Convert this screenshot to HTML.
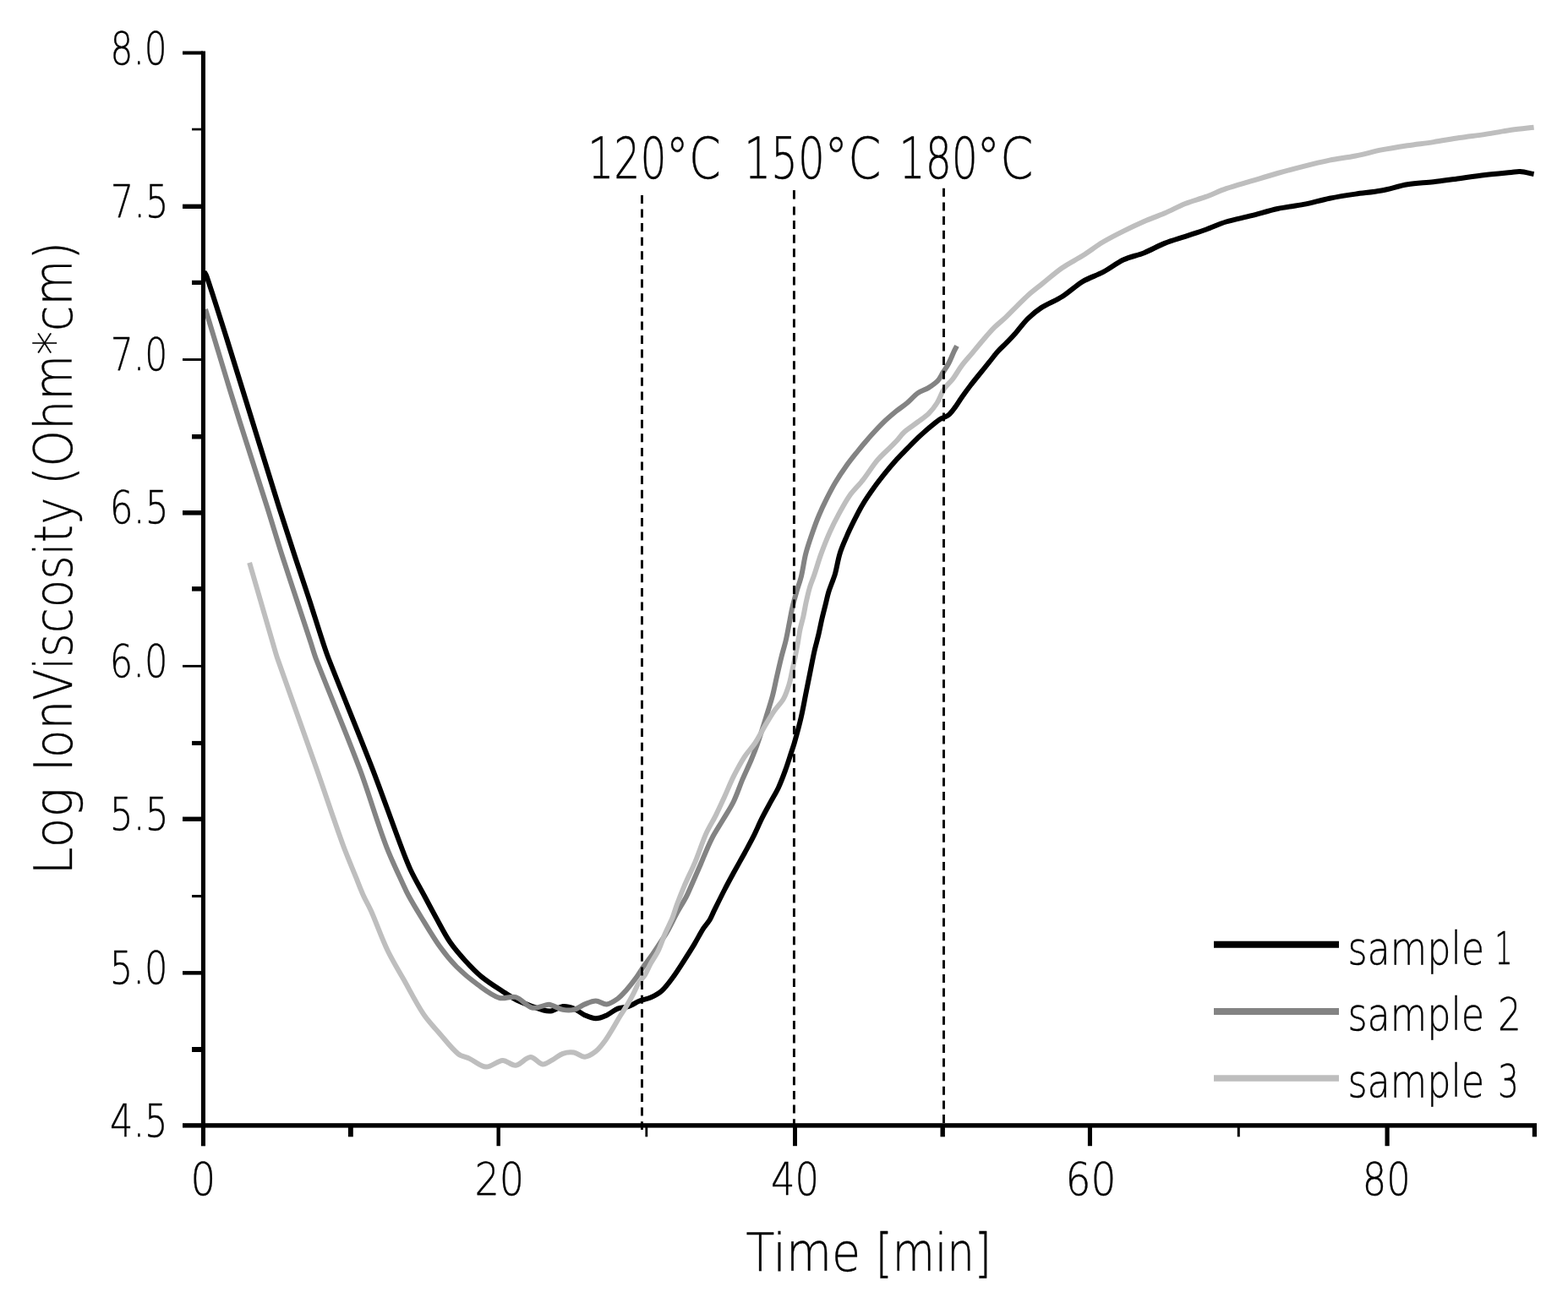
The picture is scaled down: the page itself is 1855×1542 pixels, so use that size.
<!DOCTYPE html>
<html><head><meta charset="utf-8"><title>Log IonViscosity vs Time</title>
<style>html,body{margin:0;padding:0;background:#fff;}svg{display:block;}</style>
</head><body>
<svg width="1855" height="1542" viewBox="0 0 1855 1542">
<rect width="1855" height="1542" fill="#fff"/>
<g fill="none" stroke-width="6" stroke-linejoin="round" stroke-linecap="butt">
<path d="M241.5 321.5C242.5 323.3 243.8 325.0 244.5 327.0C252.7 351.2 260.3 375.6 268.0 400.0C273.3 416.6 278.3 433.3 283.5 450.0C288.7 466.7 293.8 483.3 299.0 500.0C304.2 516.7 309.3 533.3 314.5 550.0C319.7 566.7 324.7 583.4 330.0 600.0C336.4 620.0 342.9 640.0 349.4 660.0C354.9 676.7 360.6 693.3 366.0 710.0C371.4 726.6 376.5 743.4 382.0 760.0C384.2 766.7 386.4 773.4 389.0 780.0C406.0 823.4 423.8 866.4 440.6 909.8C452.1 939.7 462.6 970.0 473.9 1000.0C477.6 1009.8 481.2 1019.7 485.6 1029.2C490.7 1040.1 496.9 1050.4 502.5 1061.0C507.2 1069.8 511.8 1078.7 516.7 1087.5C521.8 1096.7 526.4 1106.2 532.3 1114.8C537.5 1122.4 543.6 1129.4 549.8 1136.2C556.0 1143.0 562.3 1149.8 569.3 1155.6C577.2 1162.1 586.0 1167.6 594.6 1173.2C600.9 1177.3 607.2 1181.7 614.0 1184.8C623.4 1189.1 633.3 1192.6 643.2 1195.5C646.3 1196.4 649.9 1196.8 653.0 1196.2C657.4 1195.3 661.5 1191.4 665.9 1191.0C670.1 1190.6 674.9 1192.0 678.9 1193.6C683.5 1195.4 687.3 1199.3 691.9 1201.4C696.0 1203.2 700.6 1205.3 704.9 1205.3C709.2 1205.3 713.7 1203.2 717.8 1201.4C722.4 1199.3 726.2 1195.4 730.8 1193.6C734.8 1192.0 739.7 1192.5 743.8 1191.0C748.3 1189.4 752.2 1186.3 756.7 1184.5C760.9 1182.8 765.6 1182.4 769.7 1180.6C774.3 1178.5 779.0 1176.1 782.7 1172.8C787.6 1168.4 791.6 1162.7 795.6 1157.3C800.2 1151.0 804.4 1144.4 808.6 1137.8C813.0 1131.0 817.4 1124.1 821.6 1117.1C825.2 1111.1 828.3 1104.8 832.0 1098.9C834.3 1095.3 837.5 1092.2 839.7 1088.5C841.6 1085.3 842.9 1081.7 844.5 1078.4C848.8 1069.7 853.0 1061.1 857.4 1052.5C860.8 1045.9 864.3 1039.5 867.8 1033.0C872.1 1025.2 876.5 1017.5 880.8 1009.7C884.3 1003.2 887.9 996.8 891.2 990.2C894.8 983.0 897.9 975.4 901.5 968.2C904.8 961.6 908.4 955.2 911.9 948.7C914.9 943.1 918.3 937.7 921.0 931.9C923.9 925.6 926.4 919.0 928.8 912.4C931.2 906.0 933.2 899.5 935.3 893.0C936.9 888.1 938.6 883.3 940.0 878.4C942.8 868.5 945.5 858.6 947.8 848.6C949.8 840.0 951.3 831.3 953.0 822.7C954.7 814.0 956.5 805.4 958.2 796.7C959.9 788.1 961.5 779.4 963.4 770.8C965.0 763.8 967.0 757.0 968.6 750.0C970.0 744.0 971.1 737.9 972.5 731.9C973.7 726.7 975.1 721.5 976.4 716.3C977.7 711.1 978.7 705.9 980.2 700.8C981.7 696.0 983.7 691.3 985.4 686.5C986.3 684.0 987.3 681.6 988.0 679.0C990.1 671.1 991.2 662.9 993.6 655.1C995.6 648.4 998.5 642.0 1001.3 635.6C1004.1 629.0 1007.2 622.6 1010.4 616.2C1013.7 609.6 1017.0 603.0 1020.8 596.7C1024.8 590.0 1029.3 583.6 1033.8 577.3C1037.9 571.5 1042.3 565.9 1046.7 560.4C1051.3 554.7 1056.1 549.1 1061.0 543.6C1064.8 539.3 1069.0 535.3 1073.0 531.2C1077.3 526.8 1081.5 522.4 1085.9 518.2C1090.1 514.2 1094.5 510.4 1098.9 506.6C1103.1 503.0 1107.3 499.3 1111.9 496.2C1115.1 494.1 1119.3 493.4 1122.3 491.0C1125.4 488.6 1127.6 485.1 1130.0 481.9C1132.8 478.1 1135.1 474.0 1137.8 470.2C1141.2 465.4 1144.6 460.7 1148.2 456.0C1151.6 451.6 1155.1 447.3 1158.6 443.0C1162.5 438.2 1166.3 433.5 1170.2 428.7C1173.7 424.4 1176.9 419.9 1180.6 415.8C1183.9 412.1 1187.6 408.9 1191.0 405.4C1194.6 401.7 1198.1 398.0 1201.5 394.2C1206.5 388.5 1210.8 382.2 1216.2 376.9C1221.1 372.1 1226.5 367.6 1232.3 363.9C1240.0 359.0 1248.9 355.9 1256.6 351.0C1265.1 345.7 1272.3 338.3 1280.9 333.2C1288.5 328.6 1297.3 326.1 1305.1 321.9C1313.4 317.5 1320.9 311.3 1329.4 307.3C1337.1 303.7 1345.7 302.4 1353.6 299.2C1361.9 295.9 1369.6 291.2 1377.9 287.9C1385.8 284.7 1394.1 282.5 1402.2 279.8C1410.3 277.1 1418.4 274.7 1426.4 271.8C1434.5 268.9 1442.3 265.0 1450.5 262.5C1460.4 259.5 1470.7 257.8 1480.7 255.2C1491.0 252.6 1501.1 249.2 1511.5 247.0C1521.6 244.8 1532.0 243.9 1542.2 241.9C1552.5 239.8 1562.6 236.8 1572.9 234.7C1583.1 232.7 1593.3 231.1 1603.6 229.6C1613.8 228.1 1624.2 227.4 1634.3 225.5C1644.7 223.6 1654.7 220.0 1665.1 218.3C1675.2 216.6 1685.6 216.4 1695.8 215.2C1706.1 214.0 1716.3 212.5 1726.5 211.2C1736.8 209.8 1747.0 208.3 1757.3 207.1C1767.5 205.9 1777.8 205.0 1788.0 204.0C1791.4 203.7 1794.8 202.7 1798.2 203.0C1803.7 203.4 1809.1 205.0 1814.6 206.0" stroke="#000"/>
<path d="M243.0 366.0C246.5 377.3 250.0 388.7 253.4 400.0C258.5 416.7 263.4 433.4 268.5 450.0C273.6 466.7 278.8 483.4 284.0 500.0C289.3 516.7 294.7 533.3 300.0 550.0C305.3 566.7 310.7 583.3 316.0 600.0C322.3 620.0 328.2 640.1 334.6 660.0C345.4 693.4 356.6 726.7 367.5 760.0C369.7 766.7 371.5 773.5 374.0 780.0C390.8 823.4 409.2 866.2 425.5 909.8C436.6 939.6 445.2 970.3 456.4 1000.0C462.6 1016.6 470.5 1032.5 477.8 1048.6C479.5 1052.5 481.3 1056.3 483.4 1060.0C487.8 1068.0 492.5 1075.9 497.3 1083.7C504.9 1096.1 512.2 1108.8 520.6 1120.6C526.5 1128.9 532.9 1136.8 540.1 1144.0C547.9 1151.8 556.5 1158.9 565.4 1165.4C573.4 1171.2 581.7 1178.0 590.7 1180.9C596.6 1182.8 604.2 1178.2 610.1 1180.0C617.2 1182.1 622.6 1191.0 629.6 1192.6C635.6 1193.9 642.5 1189.5 649.0 1188.7C650.3 1188.5 651.7 1189.2 653.0 1189.7C657.3 1191.3 661.4 1194.0 665.9 1194.9C670.1 1195.7 674.8 1195.9 678.9 1194.9C683.5 1193.8 687.4 1190.2 691.9 1188.4C696.1 1186.7 700.6 1184.5 704.9 1184.5C709.2 1184.5 713.6 1188.8 717.8 1188.4C722.3 1188.0 726.9 1184.7 730.8 1181.9C734.7 1179.1 737.9 1175.2 741.2 1171.5C744.8 1167.4 748.3 1163.0 751.5 1158.6C755.2 1153.5 758.3 1148.1 761.9 1143.0C764.4 1139.5 767.2 1136.1 769.7 1132.6C773.3 1127.5 776.7 1122.3 780.1 1117.1C783.2 1112.4 786.4 1107.7 789.2 1102.8C793.2 1095.7 796.6 1088.2 800.5 1081.0C804.0 1074.6 808.0 1068.4 811.5 1062.0C813.2 1058.9 814.5 1055.7 815.9 1052.5C820.3 1042.6 824.6 1032.6 828.9 1022.7C833.2 1012.7 837.0 1002.5 841.9 992.8C845.7 985.2 850.6 978.1 854.9 970.8C859.2 963.4 864.1 956.4 867.8 948.7C871.9 940.4 874.6 931.4 878.2 922.8C881.5 915.0 885.3 907.3 888.6 899.5C891.2 893.2 893.8 886.9 896.0 880.5C899.7 870.0 903.0 859.3 906.3 848.6C909.0 840.0 911.8 831.4 914.1 822.7C916.1 815.0 917.5 807.1 919.3 799.3C921.0 792.0 922.7 784.6 924.5 777.3C926.1 770.8 928.2 764.3 929.7 757.8C931.2 751.4 932.3 744.9 933.6 738.4C934.9 731.9 935.9 725.3 937.4 718.9C938.9 712.4 940.8 705.9 942.6 699.5C944.2 693.8 946.4 688.3 947.8 682.6C950.0 673.5 951.0 664.1 953.3 655.1C955.4 646.8 958.3 638.6 961.1 630.5C963.5 623.5 966.0 616.5 968.9 609.7C971.7 603.1 974.8 596.6 978.0 590.2C981.3 583.6 984.6 577.1 988.4 570.8C992.4 564.1 996.8 557.6 1001.3 551.3C1005.4 545.5 1009.9 540.0 1014.3 534.5C1018.5 529.2 1022.8 524.0 1027.3 518.9C1032.8 512.7 1038.2 506.6 1044.1 500.8C1049.1 495.9 1054.6 491.3 1060.0 486.8C1064.2 483.4 1068.8 480.5 1073.0 477.0C1077.5 473.2 1081.2 468.5 1085.9 465.1C1089.8 462.3 1094.8 461.1 1098.9 458.6C1102.6 456.3 1106.4 453.9 1109.3 450.8C1112.0 447.9 1113.6 443.9 1115.8 440.4C1118.0 436.9 1120.4 433.6 1122.3 430.0C1124.7 425.4 1126.5 420.5 1128.7 415.8C1129.7 413.6 1130.9 411.5 1132.0 409.3" stroke="#838383"/>
<path d="M295.1 665.8C304.2 697.2 313.3 728.6 322.5 760.0C324.5 766.7 326.2 773.4 328.5 780.0C343.6 823.4 359.3 866.5 374.5 909.8C385.0 939.8 394.9 970.1 405.8 1000.0C410.6 1013.1 416.2 1025.9 421.4 1038.9C424.2 1045.9 426.9 1053.1 430.0 1060.0C432.7 1066.0 436.2 1071.7 438.9 1077.8C445.7 1093.2 451.2 1109.3 458.4 1124.5C464.1 1136.5 471.2 1147.9 477.8 1159.5C485.5 1173.2 492.5 1187.4 501.2 1200.4C506.8 1208.8 514.0 1216.1 520.6 1223.7C527.6 1231.7 534.0 1240.5 542.0 1247.1C545.7 1250.2 551.1 1250.8 555.6 1252.9C562.2 1256.0 568.5 1262.3 575.1 1262.6C581.5 1262.9 588.1 1255.3 594.6 1254.9C599.7 1254.6 605.1 1261.3 610.1 1260.7C616.1 1260.0 621.8 1251.2 627.6 1251.0C632.4 1250.8 637.1 1258.8 642.0 1259.5C645.5 1260.0 649.5 1256.5 653.0 1254.6C657.4 1252.2 661.3 1248.4 665.9 1246.8C669.9 1245.4 674.7 1244.9 678.9 1245.5C683.4 1246.2 687.6 1250.9 691.9 1250.7C696.3 1250.5 701.2 1247.1 704.9 1244.2C708.9 1241.1 712.1 1236.7 715.2 1232.5C718.6 1228.0 721.4 1223.0 724.3 1218.2C727.4 1213.1 730.3 1207.8 733.4 1202.7C736.3 1197.9 739.6 1193.2 742.5 1188.4C744.8 1184.6 746.9 1180.7 749.0 1176.7C751.2 1172.5 752.9 1167.9 755.4 1163.8C757.6 1160.1 760.9 1157.1 763.2 1153.4C765.7 1149.3 767.4 1144.6 769.7 1140.4C772.6 1135.1 776.2 1130.3 778.8 1124.9C781.8 1118.6 783.8 1111.8 786.6 1105.4C789.4 1098.8 792.9 1092.5 795.6 1085.9C797.7 1080.7 799.0 1075.2 801.0 1070.0C803.7 1062.8 806.5 1055.7 809.5 1048.6C813.6 1039.0 818.4 1029.7 822.4 1020.1C827.0 1009.0 830.5 997.4 835.4 986.4C838.8 978.8 843.4 971.8 847.1 964.3C850.7 957.1 854.0 949.7 857.4 942.3C860.9 934.5 864.0 926.5 867.8 918.9C871.8 911.0 876.0 903.1 880.8 895.6C884.3 890.1 889.2 885.5 892.8 880.0C897.3 873.3 900.9 866.0 905.0 859.0C908.4 853.3 911.7 847.6 915.4 842.1C919.0 836.8 924.0 832.2 927.1 826.6C930.0 821.4 931.8 815.5 933.6 809.7C935.3 804.2 936.2 798.4 937.4 792.8C938.5 787.6 939.7 782.5 940.7 777.3C941.8 771.7 942.9 766.0 943.9 760.4C944.8 755.2 945.4 750.0 946.5 744.9C947.6 739.7 949.2 734.5 950.4 729.3C951.6 723.7 952.5 718.0 953.7 712.4C955.1 706.3 956.4 700.2 958.2 694.3C959.7 689.4 961.8 684.8 963.4 680.0C966.2 671.7 968.5 663.3 971.5 655.1C974.7 646.4 978.1 637.7 981.9 629.2C985.1 622.1 988.6 615.2 992.3 608.4C996.4 600.9 1000.3 593.3 1005.2 586.4C1009.8 579.9 1015.9 574.5 1020.8 568.2C1026.7 560.7 1031.6 552.3 1037.7 544.9C1042.4 539.3 1048.0 534.5 1053.2 529.3C1055.5 527.0 1057.8 524.8 1060.0 522.5C1063.5 518.8 1066.3 514.5 1070.1 511.1C1074.9 506.8 1080.5 503.4 1085.6 499.5C1090.0 496.2 1094.8 493.2 1098.7 489.4C1102.4 485.7 1105.7 481.4 1108.5 477.0C1111.9 471.6 1113.6 465.2 1117.1 459.9C1119.9 455.6 1124.3 452.3 1127.4 448.2C1131.2 443.2 1134.0 437.6 1137.8 432.6C1141.8 427.2 1146.5 422.3 1150.8 417.1C1155.1 411.9 1159.4 406.6 1163.8 401.5C1168.0 396.6 1172.2 391.7 1176.7 387.2C1180.8 383.1 1185.5 379.6 1189.7 375.6C1194.1 371.4 1198.3 366.9 1202.7 362.6C1207.2 358.2 1211.5 353.6 1216.2 349.4C1221.4 344.8 1226.9 340.7 1232.3 336.4C1240.4 329.9 1248.1 322.9 1256.6 317.0C1264.3 311.6 1272.9 307.5 1280.9 302.5C1289.1 297.3 1296.8 291.3 1305.1 286.3C1313.0 281.6 1321.2 277.5 1329.4 273.4C1337.4 269.4 1345.4 265.6 1353.6 262.0C1361.6 258.5 1369.9 255.8 1377.9 252.3C1386.1 248.8 1393.9 244.3 1402.2 241.0C1410.1 237.8 1418.4 235.8 1426.4 232.9C1434.6 229.9 1442.5 226.0 1450.7 223.2C1460.6 219.8 1470.7 217.2 1480.7 214.2C1491.0 211.1 1501.2 207.9 1511.5 205.0C1521.7 202.1 1531.9 199.4 1542.2 196.8C1552.4 194.2 1562.6 191.7 1572.9 189.6C1583.1 187.6 1593.4 186.5 1603.6 184.5C1613.9 182.5 1624.0 179.5 1634.3 177.4C1644.5 175.4 1654.8 173.8 1665.1 172.2C1675.3 170.7 1685.6 169.6 1695.8 168.1C1706.1 166.6 1716.2 164.5 1726.5 163.0C1736.7 161.5 1747.1 160.4 1757.3 158.9C1767.6 157.4 1777.7 155.3 1788.0 153.8C1796.8 152.5 1805.7 151.7 1814.6 150.7" stroke="#bebebe"/>
</g>
<path d="M759.45 230.90V240.90M759.45 247.51V257.51M759.45 264.12V274.12M759.45 280.73V290.73M759.45 297.34V307.34M759.45 313.95V323.95M759.45 330.56V340.56M759.45 347.17V357.17M759.45 363.78V373.78M759.45 380.39V390.39M759.45 397.00V407.00M759.45 413.61V423.61M759.45 430.22V440.22M759.45 446.83V456.83M759.45 463.44V473.44M759.45 480.05V490.05M759.45 496.66V506.66M759.45 513.27V523.27M759.45 529.88V539.88M759.45 546.49V556.49M759.45 563.10V573.10M759.45 579.71V589.71M759.45 596.32V606.32M759.45 612.93V622.93M759.45 629.54V639.54M759.45 646.15V656.15M759.45 662.76V672.76M759.45 679.37V689.37M759.45 695.98V705.98M759.45 712.59V722.59M759.45 729.20V739.20M759.45 745.81V755.81M759.45 762.42V772.42M759.45 779.03V789.03M759.45 795.64V805.64M759.45 812.25V822.25M759.45 828.86V838.86M759.45 845.47V855.47M759.45 862.08V872.08M759.45 878.69V888.69M759.45 895.30V905.30M759.45 911.91V921.91M759.45 928.52V938.52M759.45 945.13V955.13M759.45 961.74V971.74M759.45 978.35V988.35M759.45 994.96V1004.96M759.45 1011.57V1021.57M759.45 1028.18V1038.18M759.45 1044.79V1054.79M759.45 1061.40V1071.40M759.45 1078.01V1088.01M759.45 1094.62V1104.62M759.45 1111.23V1121.23M759.45 1127.84V1137.84M759.45 1144.45V1154.45M759.45 1161.06V1171.06M759.45 1177.67V1187.67M759.45 1194.28V1204.28M759.45 1210.89V1220.89M759.45 1227.50V1237.50M759.45 1244.11V1254.11M759.45 1260.72V1270.72M759.45 1277.33V1287.33M759.45 1293.94V1303.94M759.45 1310.55V1320.55M759.45 1327.16V1337.00" stroke="#000" stroke-width="2.9" fill="none"/>
<path d="M939.4 244.51V254.51M939.4 261.12V271.12M939.4 277.73V287.73M939.4 294.34V304.34M939.4 310.95V320.95M939.4 327.56V337.56M939.4 344.17V354.17M939.4 360.78V370.78M939.4 377.39V387.39M939.4 394.00V404.00M939.4 410.61V420.61M939.4 427.22V437.22M939.4 443.83V453.83M939.4 460.44V470.44M939.4 477.05V487.05M939.4 493.66V503.66M939.4 510.27V520.27M939.4 526.88V536.88M939.4 543.49V553.49M939.4 560.10V570.10M939.4 576.71V586.71M939.4 593.32V603.32M939.4 609.93V619.93M939.4 626.54V636.54M939.4 643.15V653.15M939.4 659.76V669.76M939.4 676.37V686.37M939.4 692.98V702.98M939.4 709.59V719.59M939.4 726.20V736.20M939.4 742.81V752.81M939.4 759.42V769.42M939.4 776.03V786.03M939.4 792.64V802.64M939.4 809.25V819.25M939.4 825.86V835.86M939.4 842.47V852.47M939.4 859.08V869.08M939.4 875.69V885.69M939.4 892.30V902.30M939.4 908.91V918.91M939.4 925.52V935.52M939.4 942.13V952.13M939.4 958.74V968.74M939.4 975.35V985.35M939.4 991.96V1001.96M939.4 1008.57V1018.57M939.4 1025.18V1035.18M939.4 1041.79V1051.79M939.4 1058.40V1068.40M939.4 1075.01V1085.01M939.4 1091.62V1101.62M939.4 1108.23V1118.23M939.4 1124.84V1134.84M939.4 1141.45V1151.45M939.4 1158.06V1168.06M939.4 1174.67V1184.67M939.4 1191.28V1201.28M939.4 1207.89V1217.89M939.4 1224.50V1234.50M939.4 1241.11V1251.11M939.4 1257.72V1267.72M939.4 1274.33V1284.33M939.4 1290.94V1300.94M939.4 1307.55V1317.55M939.4 1324.16V1334.16" stroke="#000" stroke-width="2.9" fill="none"/>
<path d="M939.4 225.1V235.6" stroke="#000" stroke-width="2.9" fill="none"/>
<path d="M1116.5 222.80V232.80M1116.5 239.41V249.41M1116.5 256.02V266.02M1116.5 272.63V282.63M1116.5 289.24V299.24M1116.5 305.85V315.85M1116.5 322.46V332.46M1116.5 339.07V349.07M1116.5 355.68V365.68M1116.5 372.29V382.29M1116.5 388.90V398.90M1116.5 405.51V415.51M1116.5 422.12V432.12M1116.5 438.73V448.73M1116.5 455.34V465.34M1116.5 471.95V481.95M1116.5 488.56V498.56M1116.5 505.17V515.17M1116.5 521.78V531.78M1116.5 538.39V548.39M1116.5 555.00V565.00M1116.5 571.61V581.61M1116.5 588.22V598.22M1116.5 604.83V614.83M1116.5 621.44V631.44M1116.5 638.05V648.05M1116.5 654.66V664.66M1116.5 671.27V681.27M1116.5 687.88V697.88M1116.5 704.49V714.49M1116.5 721.10V731.10M1116.5 737.71V747.71M1116.5 754.32V764.32M1116.5 770.93V780.93M1116.5 787.54V797.54M1116.5 804.15V814.15M1116.5 820.76V830.76M1116.5 837.37V847.37M1116.5 853.98V863.98M1116.5 870.59V880.59M1116.5 887.20V897.20M1116.5 903.81V913.81M1116.5 920.42V930.42M1116.5 937.03V947.03M1116.5 953.64V963.64M1116.5 970.25V980.25M1116.5 986.86V996.86M1116.5 1003.47V1013.47M1116.5 1020.08V1030.08M1116.5 1036.69V1046.69M1116.5 1053.30V1063.30M1116.5 1069.91V1079.91M1116.5 1086.52V1096.52M1116.5 1103.13V1113.13M1116.5 1119.74V1129.74M1116.5 1136.35V1146.35M1116.5 1152.96V1162.96M1116.5 1169.57V1179.57M1116.5 1186.18V1196.18M1116.5 1202.79V1212.79M1116.5 1219.40V1229.40M1116.5 1236.01V1246.01M1116.5 1252.62V1262.62M1116.5 1269.23V1279.23M1116.5 1285.84V1295.84M1116.5 1302.45V1312.45M1116.5 1319.06V1329.06M1116.5 1335.67V1337.00" stroke="#000" stroke-width="2.9" fill="none"/>
<rect x="237.90" y="60.50" width="5.10" height="1295.80" fill="#000"/>
<rect x="216.00" y="1329.20" width="1602.00" height="5.40" fill="#000"/>
<rect x="216.00" y="60.50" width="24.00" height="4.10" fill="#000"/>
<rect x="216.00" y="241.65" width="24.00" height="5.35" fill="#000"/>
<rect x="216.00" y="424.10" width="24.00" height="2.90" fill="#000"/>
<rect x="216.00" y="604.10" width="24.00" height="5.50" fill="#000"/>
<rect x="216.00" y="786.90" width="24.00" height="2.80" fill="#000"/>
<rect x="216.00" y="966.60" width="24.00" height="5.40" fill="#000"/>
<rect x="216.00" y="1149.10" width="24.00" height="4.50" fill="#000"/>
<rect x="227.00" y="151.70" width="13.00" height="2.70" fill="#000"/>
<rect x="227.00" y="331.80" width="13.00" height="5.20" fill="#000"/>
<rect x="227.00" y="514.00" width="13.00" height="5.50" fill="#000"/>
<rect x="227.00" y="694.10" width="13.00" height="5.50" fill="#000"/>
<rect x="227.00" y="876.90" width="13.00" height="5.10" fill="#000"/>
<rect x="227.00" y="1059.00" width="13.00" height="3.10" fill="#000"/>
<rect x="227.00" y="1239.00" width="13.00" height="6.00" fill="#000"/>
<rect x="587.50" y="1332.00" width="4.40" height="24.20" fill="#000"/>
<rect x="938.00" y="1332.00" width="5.00" height="24.20" fill="#000"/>
<rect x="1286.90" y="1332.00" width="5.10" height="24.20" fill="#000"/>
<rect x="1638.50" y="1332.00" width="5.20" height="24.20" fill="#000"/>
<rect x="411.90" y="1332.00" width="5.90" height="13.30" fill="#000"/>
<rect x="763.40" y="1332.00" width="2.80" height="13.30" fill="#000"/>
<rect x="1112.50" y="1332.00" width="5.40" height="13.30" fill="#000"/>
<rect x="1463.80" y="1332.00" width="3.00" height="13.30" fill="#000"/>
<rect x="1812.80" y="1332.00" width="5.20" height="13.30" fill="#000"/>
<line x1="1436" y1="1117.8" x2="1584" y2="1117.8" stroke="#000" stroke-width="8"/>
<line x1="1436" y1="1197" x2="1584" y2="1197" stroke="#838383" stroke-width="8"/>
<line x1="1436" y1="1276" x2="1584" y2="1276" stroke="#bebebe" stroke-width="7.6"/>
<g class="txt" font-family='"DejaVu Sans", "Liberation Sans", sans-serif' font-weight="200" fill="#000" stroke="#000" stroke-width="0.4">
<text x="130.00" y="1344.60" font-size="52.5" textLength="68.54" lengthAdjust="spacingAndGlyphs">4.5</text>
<text x="129.80" y="1164.20" font-size="52.5" textLength="68.71" lengthAdjust="spacingAndGlyphs">5.0</text>
<text x="129.80" y="982.00" font-size="52.5" textLength="69.83" lengthAdjust="spacingAndGlyphs">5.5</text>
<text x="129.80" y="801.00" font-size="52.5" textLength="68.71" lengthAdjust="spacingAndGlyphs">6.0</text>
<text x="129.80" y="618.80" font-size="52.5" textLength="69.83" lengthAdjust="spacingAndGlyphs">6.5</text>
<text x="130.80" y="438.20" font-size="52.5" textLength="67.60" lengthAdjust="spacingAndGlyphs">7.0</text>
<text x="130.80" y="256.60" font-size="52.5" textLength="68.71" lengthAdjust="spacingAndGlyphs">7.5</text>
<text x="130.60" y="76.00" font-size="52.5" textLength="67.12" lengthAdjust="spacingAndGlyphs">8.0</text>
<text x="225.60" y="1414.20" font-size="53.5" textLength="29.73" lengthAdjust="spacingAndGlyphs">0</text>
<text x="561.40" y="1414.20" font-size="53.5" textLength="58.78" lengthAdjust="spacingAndGlyphs">20</text>
<text x="912.00" y="1414.20" font-size="53.5" textLength="57.12" lengthAdjust="spacingAndGlyphs">40</text>
<text x="1260.40" y="1414.20" font-size="53.5" textLength="60.09" lengthAdjust="spacingAndGlyphs">60</text>
<text x="1611.80" y="1414.20" font-size="53.5" textLength="56.99" lengthAdjust="spacingAndGlyphs">80</text>
<text x="882.40" y="1503.60" font-size="62.5" textLength="135.58" lengthAdjust="spacingAndGlyphs">Time</text>
<text x="1035.80" y="1503.60" font-size="62.5" textLength="137.09" lengthAdjust="spacingAndGlyphs">[min]</text>
<text transform="translate(85.00 1035.40) rotate(-90)" font-size="62" textLength="103.22" lengthAdjust="spacingAndGlyphs">Log</text>
<text transform="translate(85.00 913.00) rotate(-90)" font-size="62" textLength="324.48" lengthAdjust="spacingAndGlyphs">IonViscosity</text>
<text transform="translate(85.00 574.00) rotate(-90)" font-size="62" textLength="288.00" lengthAdjust="spacingAndGlyphs">(Ohm*cm)</text>
<text x="695.20" y="211.00" font-size="67" textLength="93.29" lengthAdjust="spacingAndGlyphs">120</text>
<text x="787.80" y="211.00" font-size="67" textLength="64.94" lengthAdjust="spacingAndGlyphs">°C</text>
<text x="880.20" y="211.00" font-size="67" textLength="95.71" lengthAdjust="spacingAndGlyphs">150</text>
<text x="975.20" y="211.00" font-size="67" textLength="67.12" lengthAdjust="spacingAndGlyphs">°C</text>
<text x="1063.60" y="211.00" font-size="67" textLength="93.29" lengthAdjust="spacingAndGlyphs">180</text>
<text x="1155.20" y="211.00" font-size="67" textLength="67.06" lengthAdjust="spacingAndGlyphs">°C</text>
<text x="1594.40" y="1140.90" font-size="53" textLength="161.83" lengthAdjust="spacingAndGlyphs">sample</text>
<text x="1768.20" y="1140.90" font-size="53" textLength="21.45" lengthAdjust="spacingAndGlyphs">1</text>
<text x="1594.40" y="1219.40" font-size="53" textLength="161.83" lengthAdjust="spacingAndGlyphs">sample</text>
<text x="1772.00" y="1219.40" font-size="53" textLength="27.68" lengthAdjust="spacingAndGlyphs">2</text>
<text x="1594.40" y="1298.20" font-size="53" textLength="161.83" lengthAdjust="spacingAndGlyphs">sample</text>
<text x="1772.00" y="1298.20" font-size="53" textLength="24.91" lengthAdjust="spacingAndGlyphs">3</text>
</g>
</svg>
</body></html>
